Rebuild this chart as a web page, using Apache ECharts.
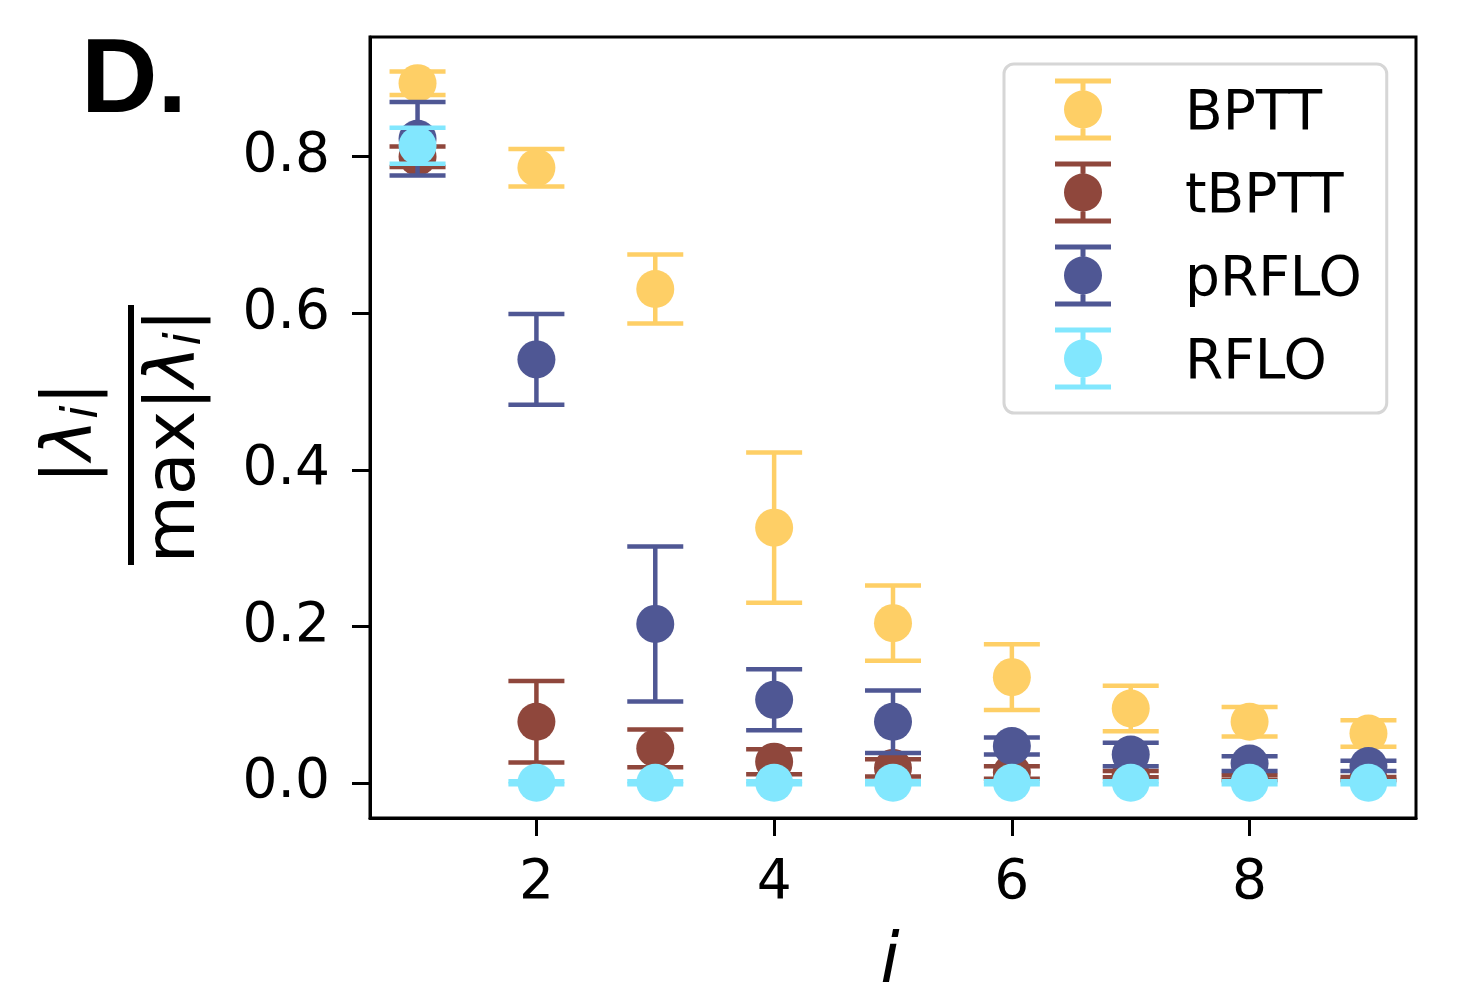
<!DOCTYPE html>
<html><head><meta charset="utf-8">
<script src="https://cdn.jsdelivr.net/npm/echarts@6/dist/echarts.min.js"></script>
<style>html,body{margin:0;padding:0;background:#fff}#c{width:1484px;height:990px}</style>
</head><body><div id="c"></div>
<script>
// ---- data ----
const idx = [1, 2, 3, 4, 5, 6, 7, 8, 9];
const seriesNames = ['BPTT', 'tBPTT', 'pRFLO', 'RFLO'];
const seriesColors = ['#fecf66', '#8f473c', '#4f5794', '#82e7fe'];
const bpttMean  = [0.894, 0.786, 0.631, 0.326, 0.204, 0.135, 0.095, 0.078, 0.063];
const bpttErr   = [0.015, 0.024, 0.044, 0.096, 0.048, 0.042, 0.029, 0.019, 0.017];
const tbpttMean = [0.800, 0.078, 0.044, 0.027, 0.019, 0.013, 0.011, 0.0065, 0.0055];
const tbpttErr  = [0.013, 0.052, 0.024, 0.016, 0.011, 0.008, 0.004, 0.003, 0.002];
const prfloMean = [0.823, 0.541, 0.203, 0.106, 0.078, 0.047, 0.036, 0.0245, 0.0215];
const prfloErr  = [0.047, 0.058, 0.099, 0.039, 0.040, 0.011, 0.015, 0.0095, 0.0065];
const rfloMean  = [0.814, 0.000, 0.000, 0.000, 0.000, 0.000, 0.000, 0.000, 0.000];
const rfloErr   = [0.023, 0.002, 0.002, 0.002, 0.002, 0.002, 0.002, 0.002, 0.002];
const xTicks = [2, 4, 6, 8];
const yTicks = [0.0, 0.2, 0.4, 0.6, 0.8];

const means = [bpttMean, tbpttMean, prfloMean, rfloMean];
const errs = [bpttErr, tbpttErr, prfloErr, rfloErr];

const FONT = 'DejaVu Sans';
const iconPath = 'path://M0,0H56V5H0Z M25.5,5H30.5V12H25.5Z M9,31A19,19,0,1,0,47,31A19,19,0,1,0,9,31Z M25.5,50H30.5V57H25.5Z M0,57H56V62H0Z';

function makeRender(color) {
  return function (params, api) {
    const x = api.value(0), y = api.value(1), e = api.value(2);
    const c = api.coord([x, y]);
    const t = api.coord([x, y + e]);
    const b = api.coord([x, y - e]);
    const hw = 28, lw = 4.5, r = 19;
    const st = { stroke: color, lineWidth: lw };
    return {
      type: 'group',
      children: [
        { type: 'line', shape: { x1: c[0], y1: t[1], x2: c[0], y2: b[1] }, style: st },
        { type: 'line', shape: { x1: c[0] - hw, y1: t[1], x2: c[0] + hw, y2: t[1] }, style: st },
        { type: 'line', shape: { x1: c[0] - hw, y1: b[1], x2: c[0] + hw, y2: b[1] }, style: st },
        { type: 'circle', shape: { cx: c[0], cy: c[1], r: r }, style: { fill: color } }
      ]
    };
  };
}

const series = seriesNames.map((n, k) => ({
  name: n,
  type: 'custom',
  renderItem: makeRender(seriesColors[k]),
  itemStyle: { color: seriesColors[k] },
  encode: { x: 0, y: 1 },
  data: idx.map((x, j) => [x, means[k][j], errs[k][j]]),
  z: 2 + k
}));

const chart = echarts.init(document.getElementById('c'), null, { renderer: 'canvas' });
chart.setOption({
  animation: false,
  backgroundColor: '#ffffff',
  grid: {
    left: 370, top: 37, width: 1046, height: 781,
    show: true, borderColor: '#000', borderWidth: 3, backgroundColor: 'transparent'
  },
  xAxis: {
    type: 'value', min: 0.6, max: 9.4,
    splitLine: { show: false },
    axisLine: { show: true, onZero: false, lineStyle: { color: '#000', width: 3 } },
    axisTick: { show: true, customValues: xTicks, length: 18, lineStyle: { color: '#000', width: 3 } },
    axisLabel: { customValues: xTicks, margin: 38, fontSize: 55, fontFamily: FONT, color: '#000' }
  },
  yAxis: {
    type: 'value', min: -0.045, max: 0.953,
    splitLine: { show: false },
    axisLine: { show: true, onZero: false, lineStyle: { color: '#000', width: 3 } },
    axisTick: { show: true, customValues: yTicks, length: 18, lineStyle: { color: '#000', width: 3 } },
    axisLabel: { customValues: yTicks, margin: 40, fontSize: 55, fontFamily: FONT, color: '#000',
      formatter: v => v.toFixed(1) }
  },
  legend: {
    orient: 'vertical',
    left: 1004, top: 64,
    padding: [13, 25, 22, 51],
    itemGap: 18,
    itemWidth: 56, itemHeight: 62,
    backgroundColor: '#fff',
    borderColor: '#d6d6d6', borderWidth: 3, borderRadius: 10,
    data: seriesNames.map(n => ({ name: n, icon: iconPath })),
    formatter: n => '{t|' + n + '}',
    textStyle: {
      fontSize: 55, fontFamily: FONT, color: '#000',
      rich: { t: { fontSize: 55, fontFamily: FONT, color: '#000', lineHeight: 52, padding: [10, 0, 0, 69] } }
    },
    selectedMode: false
  },
  graphic: [
    {
      type: 'text', left: 81, top: 30,
      style: { text: 'D.', fontSize: 106, fontWeight: 'bold', fontFamily: 'Liberation Sans', fill: '#000' },
      silent: true
    },
    {
      type: 'text', x: 890, y: 964,
      style: { text: 'i', fontSize: 70, fontStyle: 'italic', fontFamily: FONT, fill: '#000',
        align: 'center', verticalAlign: 'middle' },
      silent: true
    },
    {
      type: 'group', x: 131, y: 435, rotation: Math.PI / 2, silent: true,
      children: [
        {
          type: 'text', x: 2, y: -58,
          style: {
            text: '{n||}{l|λ}{s|i}{n||}',
            align: 'center', verticalAlign: 'middle',
            rich: {
              n: { fontSize: 70, fontFamily: FONT, fill: '#000', lineHeight: 80 },
              l: { fontSize: 70, fontFamily: FONT, fontStyle: 'italic', fill: '#000', lineHeight: 80 },
              s: { fontSize: 49, fontFamily: FONT, fontStyle: 'italic', fill: '#000', lineHeight: 80, padding: [22, 0, 0, 0] }
            }
          }
        },
        { type: 'rect', shape: { x: -130, y: -3, width: 260, height: 6 }, style: { fill: '#000' } },
        {
          type: 'text', x: -1, y: 45,
          style: {
            text: '{n|max|}{l|λ}{s|i}{n||}',
            align: 'center', verticalAlign: 'middle',
            rich: {
              n: { fontSize: 70, fontFamily: FONT, fill: '#000', lineHeight: 80 },
              l: { fontSize: 70, fontFamily: FONT, fontStyle: 'italic', fill: '#000', lineHeight: 80 },
              s: { fontSize: 49, fontFamily: FONT, fontStyle: 'italic', fill: '#000', lineHeight: 80, padding: [22, 0, 0, 0] }
            }
          }
        }
      ]
    }
  ],
  series: series
});
</script>
</body></html>
